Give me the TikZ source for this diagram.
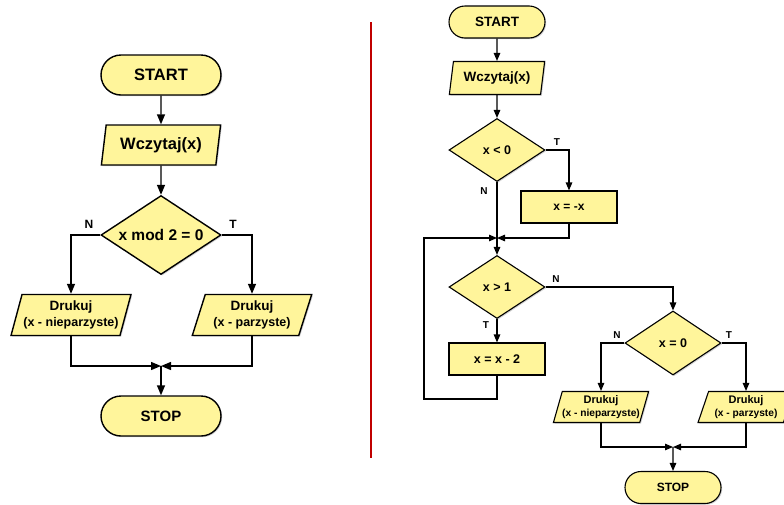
\documentclass[tikz,border=0pt]{standalone}
\usepackage{fontspec}
\setmainfont{Liberation Sans}
\usetikzlibrary{shapes.geometric,shapes.misc,arrows.meta,shadows}
\definecolor{boxfill}{HTML}{FFF59B}
\definecolor{divred}{HTML}{C00000}
\newcommand{\fs}[1]{\fontsize{#1}{#1}\selectfont\bfseries}
\tikzset{
    block/.style={draw, fill=boxfill, inner sep=0pt, align=center,
        drop shadow={shadow xshift=1.2pt, shadow yshift=-1.2pt, fill=black!35}},
    term/.style={block, rounded rectangle},
    inout/.style 2 args={block, trapezium, trapezium stretches=true,
        trapezium left angle=#1, trapezium right angle=#2},
    proc/.style={block, rectangle},
    decision/.style={block, diamond, aspect=1.5},
    bigpart/.style={line width=1.4pt, minimum width=120pt, minimum height=40pt},
    smallpart/.style={line width=1.1pt, minimum width=96pt, minimum height=32pt},
    arr/.style={-{Triangle[length=10pt,width=8pt]}, line width=1.4pt},
    sarr/.style={-{Triangle[length=8pt,width=6.5pt]}, line width=1.1pt},
    lbl/.style={font=\fs{12}},
    slbl/.style={font=\fs{10}},
}
\begin{document}
\begin{tikzpicture}[x=1pt, y=-1pt]
    \clip (0,0) rectangle (784,504);

    % left chart
    \node[term, bigpart, font=\fs{16.5}] (start1) at (161,75) {START};
    \node[inout={77}{103}, bigpart, font=\fs{16.5}] (read1) at (161,145) {Wczytaj(x)};
    \node[decision, line width=1.4pt, minimum width=120pt, minimum height=79pt,
        font=\fs{15.5}] (mod1) at (161,235) {x mod 2 = 0};
    \node[inout={69}{111}, bigpart, minimum height=41pt, font=\fs{13.5}]
        (odd1) at (71,315) {Drukuj\\[2pt]{\fs{12.5}(x - nieparzyste)}};
    \node[inout={69}{111}, bigpart, minimum height=41pt, font=\fs{13.5}]
        (even1) at (252,315) {Drukuj\\[2pt]{\fs{12.5}(x - parzyste)}};
    \node[term, bigpart, font=\fs{15}] (stop1) at (161,416) {STOP};
    \coordinate (join1) at (161,366);

    \draw[arr] (start1) -- (read1);
    \draw[arr] (read1) -- (mod1);
    \draw[arr] (mod1.west) -| (odd1.north);
    \draw[arr] (mod1.east) -| (even1.north);
    \draw[arr] (odd1.south) |- (join1);
    \draw[arr] (even1.south) |- (join1);
    \draw[arr] (join1) -- (stop1);
    \node[lbl] at (89,224) {N};
    \node[lbl] at (233,224) {T};

    % divider
    \draw[divred, line width=2pt] (371,22) -- (371,458);

    % right chart
    \node[term, smallpart, font=\fs{13.5}] (start2) at (497,22) {START};
    \node[inout={76}{104}, smallpart, minimum height=33pt, font=\fs{13.5}] (read2) at (497,78) {Wczytaj(x)};
    \node[decision, line width=1.1pt, minimum width=96pt, minimum height=63pt,
        font=\fs{12.5}] (neg2) at (497,150) {x < 0};
    \node[proc, smallpart, font=\fs{12}] (abs2) at (569,207) {x = -x};
    \node[decision, line width=1.1pt, minimum width=96pt, minimum height=63pt,
        font=\fs{12.5}] (gt2) at (497,287) {x > 1};
    \node[proc, smallpart, font=\fs{12.5}] (sub2) at (497,359) {x = x - 2};
    \node[decision, line width=1.1pt, minimum width=96pt, minimum height=64pt,
        font=\fs{12.5}] (zero2) at (673,343) {x = 0};
    \node[inout={69}{111}, smallpart, minimum height=31pt, font=\fs{11}]
        (odd2) at (601,407) {Drukuj\\[2pt]{\fs{10.2}(x - nieparzyste)}};
    \node[inout={69}{111}, smallpart, minimum height=31pt, font=\fs{11}]
        (even2) at (746,407) {Drukuj\\[2pt]{\fs{10.2}(x - parzyste)}};
    \node[term, smallpart, font=\fs{12}] (stop2) at (673,487.5) {STOP};
    \coordinate (join2) at (497,238);
    \coordinate (back2) at (424,399);
    \coordinate (join3) at (673,447);

    \draw[sarr] (start2) -- (read2);
    \draw[sarr] (read2) -- (neg2);
    \draw[sarr] (neg2.east) -| (abs2.north);
    \draw[sarr] (abs2.south) |- (join2);
    \draw[sarr] (neg2.south) -- (gt2.north);
    \draw[sarr] (gt2.east) -| (zero2.north);
    \draw[sarr] (gt2.south) -- (sub2.north);
    \draw[sarr] (sub2.south) |- (back2) |- (join2);
    \draw[sarr] (zero2.west) -| (odd2.north);
    \draw[sarr] (zero2.east) -| (even2.north);
    \draw[sarr] (odd2.south) |- (join3);
    \draw[sarr] (even2.south) |- (join3);
    \draw[sarr] (join3) -- (stop2);
    \node[slbl] at (557,142) {T};
    \node[slbl] at (484,191) {N};
    \node[slbl] at (556,279) {N};
    \node[slbl] at (486,325) {T};
    \node[slbl] at (617,335) {N};
    \node[slbl] at (729,335) {T};
\end{tikzpicture}
\end{document}
